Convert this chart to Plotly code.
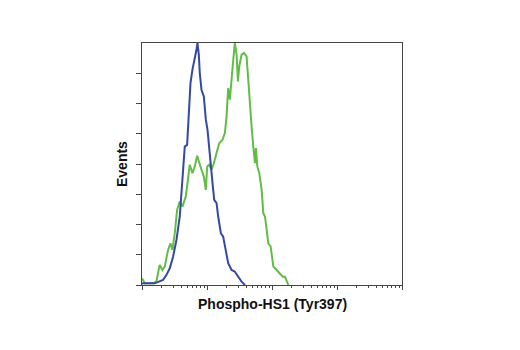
import plotly.graph_objects as go

# log10 fluorescence intensity and relative events (% of max)
blue_log = [0.0, 0.015, 0.195, 0.324, 0.375, 0.427, 0.478, 0.530, 0.581, 0.622, 0.658, 0.694, 0.725,
            0.746, 0.776, 0.812, 0.838, 0.853, 0.874, 0.889, 0.915, 0.951, 0.982, 1.008, 1.033,
            1.059, 1.085, 1.111, 1.147, 1.172, 1.213, 1.249, 1.290, 1.326, 1.378, 1.429, 1.481,
            1.532, 1.584]
blue_events = [0.5, 0.7, 0.7, 2.1, 4.1, 6.9, 11.7, 18.6, 28.3, 42.1, 57.2, 57.9, 71.0,
               83.4, 89.0, 93.1, 97.2, 100.0, 95.2, 87.6, 80.7, 77.9, 68.3, 64.1, 55.9,
               47.6, 42.1, 35.2, 33.8, 28.3, 21.4, 20.0, 14.5, 9.0, 6.2, 5.5, 3.4,
               1.4, 0.0]

green_log = [0.0, 0.041, 0.170, 0.221, 0.272, 0.314, 0.350, 0.401, 0.437, 0.468, 0.504, 0.540,
             0.581, 0.622, 0.674, 0.710, 0.735, 0.776, 0.812, 0.848, 0.879, 0.915, 0.951, 0.982,
             1.003, 1.033, 1.069, 1.105, 1.147, 1.188, 1.239, 1.275, 1.301, 1.326, 1.352, 1.378,
             1.404, 1.429, 1.455, 1.476, 1.496, 1.532, 1.568, 1.609, 1.635, 1.661, 1.686, 1.712,
             1.738, 1.753, 1.774, 1.805, 1.841, 1.866, 1.892, 1.918, 1.943, 1.979, 2.021, 2.072,
             2.123, 2.165, 2.201, 2.226, 2.252]
green_events = [2.8, 0.7, 0.7, 1.4, 8.3, 6.2, 7.6, 14.5, 17.2, 14.5, 21.4, 31.0,
                34.5, 32.4, 36.6, 44.8, 49.7, 46.2, 49.0, 53.4, 50.3, 47.6, 44.8, 39.3,
                49.0, 49.7, 47.6, 50.3, 54.5, 58.6, 60.0, 62.8, 69.7, 81.4, 76.6, 83.4,
                93.1, 100.0, 95.2, 84.1, 90.3, 95.2, 95.9, 94.5, 83.4, 72.4, 65.5, 57.2,
                50.3, 56.6, 49.0, 46.2, 39.3, 29.7, 28.3, 22.8, 17.2, 15.9, 7.6, 6.2,
                4.8, 3.4, 3.4, 1.4, 0.0]

x_title = "Phospho-HS1 (Tyr397)"
y_title = "Events"

minor_vals = [m * 10 ** d for d in range(4) for m in range(2, 10)]

fig = go.Figure()
fig.add_trace(go.Scatter(x=[10 ** v for v in green_log], y=green_events, mode="lines",
                         line=dict(color="#62bd47", width=2), hoverinfo="skip"))
fig.add_trace(go.Scatter(x=[10 ** v for v in blue_log], y=blue_events, mode="lines",
                         line=dict(color="#3449a6", width=2), hoverinfo="skip"))

font = "Liberation Sans, Arial, sans-serif"
fig.update_layout(
    width=520, height=350,
    margin=dict(l=134, r=126, t=35, b=73),
    paper_bgcolor="white", plot_bgcolor="white",
    showlegend=False,
    xaxis=dict(type="log", range=[0, 4], showgrid=False, zeroline=False,
               showline=True, linecolor="#444", linewidth=1, mirror=True,
               tickmode="array", tickvals=[1, 10, 100, 1000, 10000], showticklabels=False,
               ticks="outside", ticklen=4, tickcolor="#444", tickwidth=1,
               minor=dict(tickmode="array", tickvals=minor_vals, ticks="outside",
                          ticklen=2, tickcolor="#444", tickwidth=1, showgrid=False)),
    yaxis=dict(range=[0, 100], showgrid=False, zeroline=False,
               showline=True, linecolor="#444", linewidth=1, mirror=True,
               tickmode="array", tickvals=[12.5 * i for i in range(8)], showticklabels=False,
               ticks="outside", ticklen=5, tickcolor="#444", tickwidth=1),
    annotations=[
        dict(text="<b>" + x_title + "</b>", xref="paper", yref="paper", x=0.5, y=0,
             yshift=-19, showarrow=False, font=dict(family=font, size=14, color="#111"),
             yanchor="middle"),
        dict(text="<b>" + y_title + "</b>", xref="paper", yref="paper", x=0, y=0.5,
             xshift=-20, textangle=-90, showarrow=False,
             font=dict(family=font, size=14, color="#111"), xanchor="center"),
    ],
)

fig.write_html("out.html")
